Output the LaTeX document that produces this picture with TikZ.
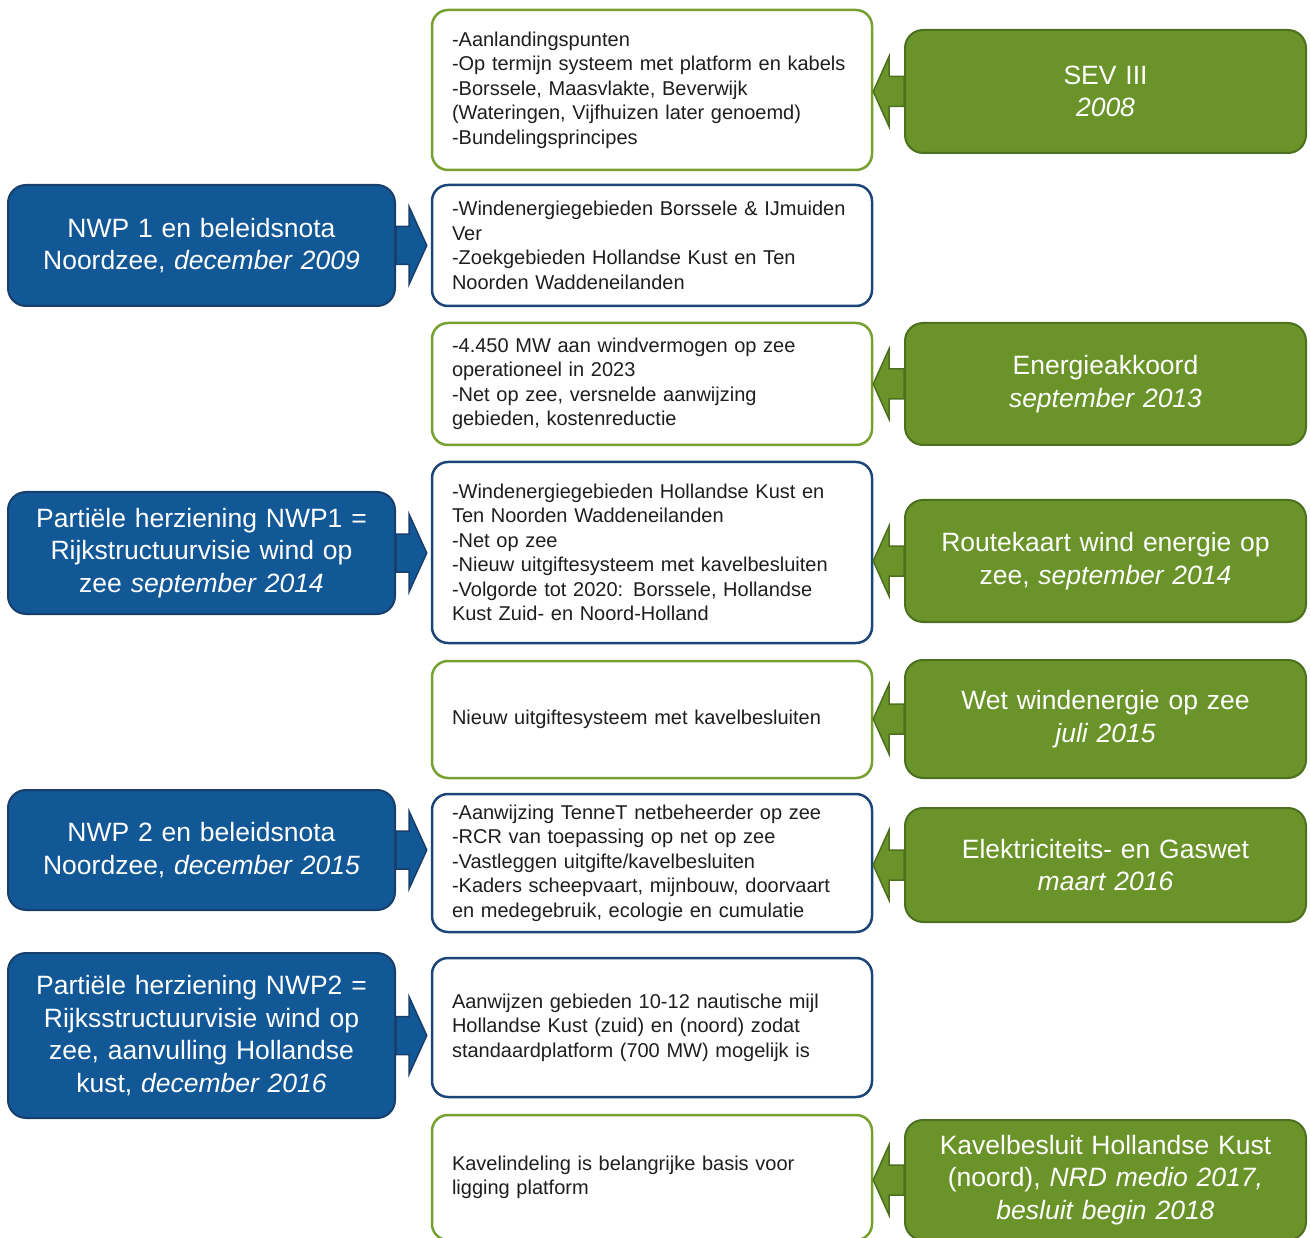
\documentclass[tikz,border=0pt]{standalone}
\usepackage{fontspec}
\setmainfont{Liberation Sans}
\usetikzlibrary{calc}
\definecolor{bfill}{RGB}{18,88,150}
\definecolor{bdark}{RGB}{24,62,108}
\definecolor{gfill}{RGB}{106,148,42}
\definecolor{gdark}{RGB}{76,112,30}
\definecolor{gline}{RGB}{118,160,48}
\definecolor{bline}{RGB}{28,70,120}
\definecolor{txt}{RGB}{30,30,30}
\newcommand\tabright[2]{%
  \filldraw[fill=bfill,draw=bdark,line width=1.5pt,line join=miter]
    ([yshift=19pt]#1.east) -- ([xshift=13pt,yshift=19pt]#1.east)
    -- ([xshift=13pt,yshift=39pt]#1.east) -- ($(#2.west |- #1.east)+(-4pt,0)$)
    -- ([xshift=13pt,yshift=-39pt]#1.east) -- ([xshift=13pt,yshift=-19pt]#1.east)
    -- ([yshift=-19pt]#1.east) -- cycle;}
\newcommand\tableft[2]{%
  \filldraw[fill=gfill,draw=gdark,line width=1.5pt,line join=miter]
    ([yshift=15pt]#1.west) -- ([xshift=-15pt,yshift=15pt]#1.west)
    -- ([xshift=-15pt,yshift=35pt]#1.west) -- (#2.east |- #1.west)
    -- ([xshift=-15pt,yshift=-35pt]#1.west) -- ([xshift=-15pt,yshift=-15pt]#1.west)
    -- ([yshift=-15pt]#1.west) -- cycle;}
\tikzset{
  mid/.style={draw, fill=white, rounded corners=16pt, line width=2.5pt,
    minimum width=440pt, text width=400pt, inner xsep=20pt, align=left,
    text=txt, font={\fontsize{20}{24.5}\selectfont\hyphenpenalty=10000\relax}},
  midg/.style={mid, draw=gline},
  midb/.style={mid, draw=bline},
  bluebox/.style={draw=bdark, fill=bfill, rounded corners=18pt, line width=2pt,
    minimum width=387pt, text width=375pt, align=center, text=white,
    font={\fontsize{26.5}{32.5}\selectfont}},
  greenbox/.style={draw=gdark, fill=gfill, rounded corners=18pt, line width=2pt,
    minimum width=401pt, text width=390pt, align=center, text=white,
    font={\fontsize{26.5}{32.5}\selectfont}},
}
\begin{document}
\begin{tikzpicture}[x=1pt,y=-1pt]
\useasboundingbox (0,0) rectangle (1310,1238);
\clip (0,0) rectangle (1310,1238);
% middle column
\node[midg, minimum height=160pt] (m1) at (652,90) {-Aanlandingspunten\\-Op termijn systeem met platform en kabels\\-Borssele, Maasvlakte, Beverwijk\\(Wateringen, Vijfhuizen later genoemd)\\-Bundelingsprincipes};
\node[midb, minimum height=121pt] (m2) at (652,245.5) {-Windenergiegebieden Borssele \& IJmuiden\\Ver\\-Zoekgebieden Hollandse Kust en Ten\\Noorden Waddeneilanden};
\node[midg, minimum height=122pt] (m3) at (652,384) {-4.450 MW aan windvermogen op zee\\operationeel in 2023\\-Net op zee, versnelde aanwijzing\\gebieden, kostenreductie};
\node[midb, minimum height=181pt] (m4) at (652,552.5) {-Windenergiegebieden Hollandse Kust en\\Ten Noorden Waddeneilanden\\-Net op zee\\-Nieuw uitgiftesysteem met kavelbesluiten\\-Volgorde tot 2020: Borssele, Hollandse\\Kust Zuid- en Noord-Holland};
\node[midg, minimum height=117pt] (m5) at (652,719.5) {Nieuw uitgiftesysteem met kavelbesluiten};
\node[midb, minimum height=138pt] (m6) at (652,863) {-Aanwijzing TenneT netbeheerder op zee\\-RCR van toepassing op net op zee\\-Vastleggen uitgifte/kavelbesluiten\\-Kaders scheepvaart, mijnbouw, doorvaart\\en medegebruik, ecologie en cumulatie};
\node[midb, minimum height=139pt] (m7) at (652,1027.5) {Aanwijzen gebieden 10-12 nautische mijl\\Hollandse Kust (zuid) en (noord) zodat\\standaardplatform (700 MW) mogelijk is};
\node[midg, minimum height=125pt] (m8) at (652,1177.5) {Kavelindeling is belangrijke basis voor\\ligging platform};
% blue column
\node[bluebox, minimum height=121pt] (b1) at (201.5,245.5) {NWP 1 en beleidsnota\\Noordzee, \textit{december 2009}};
\node[bluebox, minimum height=122pt] (b2) at (201.5,553) {Partiële herziening NWP1 =\\Rijkstructuurvisie wind op\\zee \textit{september 2014}};
\node[bluebox, minimum height=120pt] (b3) at (201.5,850) {NWP 2 en beleidsnota\\Noordzee, \textit{december 2015}};
\node[bluebox, minimum height=165pt] (b4) at (201.5,1035.5) {Partiële herziening NWP2 =\\Rijksstructuurvisie wind op\\zee, aanvulling Hollandse\\kust, \textit{december 2016}};
% green column
\node[greenbox, minimum height=123pt] (g1) at (1105.5,91.5) {SEV III\\\textit{2008}};
\node[greenbox, minimum height=122pt] (g2) at (1105.5,384) {Energieakkoord\\\textit{september 2013}};
\node[greenbox, minimum height=122pt] (g3) at (1105.5,561) {Routekaart wind energie op\\zee, \textit{september 2014}};
\node[greenbox, minimum height=118pt] (g4) at (1105.5,719) {Wet windenergie op zee\\\textit{juli 2015}};
\node[greenbox, minimum height=114pt] (g5) at (1105.5,865) {Elektriciteits- en Gaswet\\\textit{maart 2016}};
\node[greenbox, minimum height=120pt] (g6) at (1105.5,1180) {Kavelbesluit Hollandse Kust\\(noord), \textit{NRD medio 2017,}\\\textit{besluit begin 2018}};
% tabs
\tabright{b1}{m2}
\tabright{b2}{m4}
\tabright{b3}{m6}
\tabright{b4}{m7}
\tableft{g1}{m1}
\tableft{g2}{m3}
\tableft{g3}{m4}
\tableft{g4}{m5}
\tableft{g5}{m6}
\tableft{g6}{m8}
\end{tikzpicture}
\end{document}
